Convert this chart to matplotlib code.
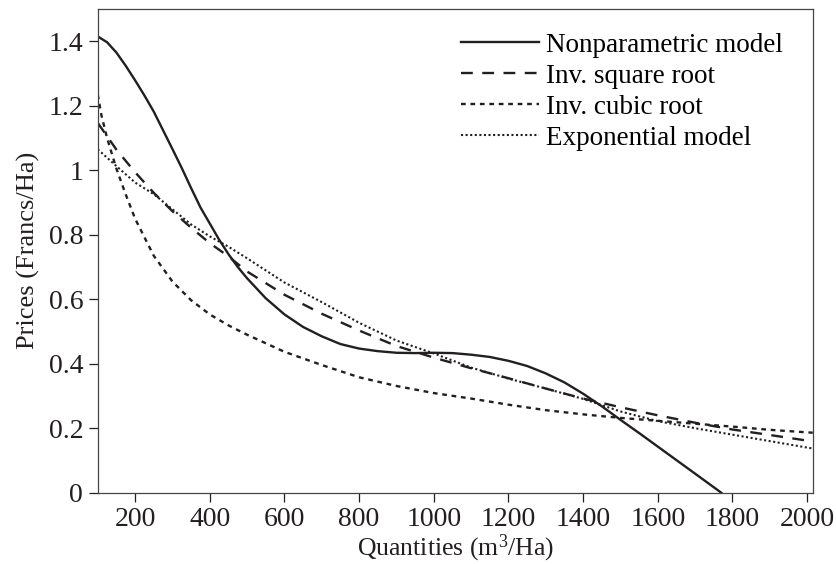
import matplotlib
matplotlib.use("Agg")
import matplotlib.pyplot as plt

plt.rcParams['font.family'] = 'serif'
plt.rcParams['font.serif'] = ['Liberation Serif', 'DejaVu Serif']
plt.rcParams['mathtext.fontset'] = 'custom'
plt.rcParams['mathtext.rm'] = 'Liberation Serif'
plt.rcParams['mathtext.it'] = 'Liberation Serif:italic'

# fitted price curves, quantities in m3/Ha
q_np = [100, 125, 150, 175, 200, 225, 250, 275, 300, 325, 350, 375, 400,
        425, 450, 475, 500, 550, 600, 650, 700, 750, 800, 850, 900, 950,
        1000, 1050, 1100, 1150, 1200, 1250, 1300, 1350, 1400, 1450, 1500,
        1550, 1600, 1700, 1770]
p_np = [1.415, 1.397, 1.365, 1.324, 1.279, 1.232, 1.182, 1.124, 1.066,
        1.007, 0.945, 0.885, 0.835, 0.785, 0.74, 0.70, 0.665, 0.603, 0.553,
        0.514, 0.485, 0.461, 0.447, 0.439, 0.434, 0.433, 0.434, 0.433, 0.428,
        0.421, 0.409, 0.393, 0.37, 0.342, 0.307, 0.268, 0.226, 0.185, 0.143,
        0.059, 0.0]

q_sq = [100, 150, 200, 250, 300, 350, 400, 450, 500, 600, 700, 800, 900,
        1000, 1100, 1200, 1300, 1400, 1500, 1600, 1700, 1800, 1900, 2015]
p_sq = [1.147, 1.064, 0.994, 0.93, 0.873, 0.822, 0.774, 0.733, 0.686, 0.614,
        0.555, 0.503, 0.455, 0.419, 0.386, 0.355, 0.323, 0.292, 0.265, 0.240,
        0.217, 0.196, 0.179, 0.159]

q_cub = [100, 110, 125, 150, 175, 200, 250, 300, 350, 400, 450, 500, 600,
         700, 800, 900, 1000, 1100, 1200, 1300, 1400, 1500, 1600, 1700,
         1800, 1900, 2015]
p_cub = [1.235, 1.17, 1.10, 1.005, 0.925, 0.85, 0.735, 0.655, 0.597, 0.553,
         0.519, 0.49, 0.437, 0.396, 0.358, 0.331, 0.309, 0.292, 0.273, 0.256,
         0.243, 0.232, 0.223, 0.214, 0.205, 0.195, 0.186]

q_exp = [100, 150, 200, 250, 300, 350, 400, 450, 500, 600, 700, 800, 900,
         1000, 1100, 1200, 1300, 1400, 1500, 1600, 1700, 1800, 1900, 2015]
p_exp = [1.065, 1.013, 0.962, 0.926, 0.879, 0.832, 0.795, 0.763, 0.727,
         0.652, 0.591, 0.527, 0.472, 0.432, 0.388, 0.354, 0.323, 0.291, 0.252,
         0.222, 0.200, 0.180, 0.160, 0.137]

ink = '#231f20'

fig = plt.figure(figsize=(8.36, 5.64), dpi=100)
ax = fig.add_axes([0.1169, 0.1264, 0.8553, 0.8576])

ax.plot(q_np, p_np, color=ink, lw=1.7, label='Nonparametric model')
ax.plot(q_sq, p_sq, color=ink, lw=1.7, linestyle=(0, (5, 4)), label='Inv. square root')
ax.plot(q_cub, p_cub, color=ink, lw=1.7, linestyle=(0, (2, 2)), label='Inv. cubic root')
ax.plot(q_exp, p_exp, color=ink, lw=1.5, linestyle=(0, (1, 1.2)), label='Exponential model')

ax.set_xlim(100, 2015)
ax.set_ylim(0, 1.5)
ax.set_xticks(range(200, 2001, 200))
ax.set_yticks([0, 0.2, 0.4, 0.6, 0.8, 1.0, 1.2, 1.4])
ax.set_yticklabels(['0', '0.2', '0.4', '0.6', '0.8', '1', '1.2', '1.4'])
ax.tick_params(direction='out', length=6.5, width=0.9, labelsize=20,
               colors=ink, pad=4)
for s in ax.spines.values():
    s.set_linewidth(0.9)
    s.set_color('#444444')

ax.set_xlabel('Quantities (m$^{3}$/Ha)', fontsize=18.5, color=ink, labelpad=0)
ax.set_ylabel('Prices (Francs/Ha)', fontsize=19, color=ink, labelpad=6)

ax.legend(loc='upper right', bbox_to_anchor=(0.985, 0.99), frameon=False,
          fontsize=19.5, handlelength=2.9, handletextpad=0.25,
          labelspacing=0.22, borderaxespad=0.3)

fig.savefig('out.png', dpi=100)
